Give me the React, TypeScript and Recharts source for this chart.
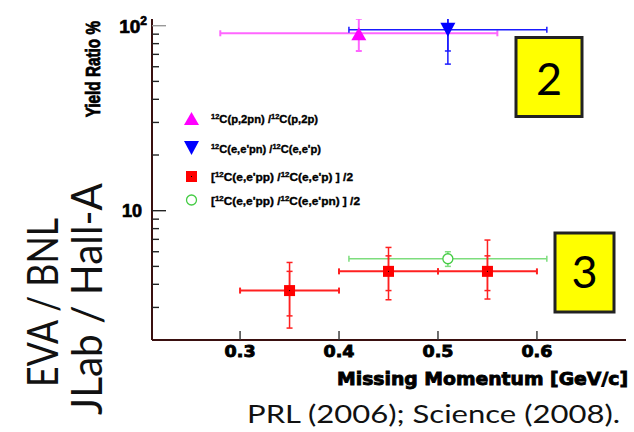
// Cociente de rendimientos frente al momento perdido, escala log en Y.
import { ErrorBar, Label, Scatter, ScatterChart, XAxis, YAxis } from "recharts";

const W = 634;
const H = 432;

// 12C(p,2pn)/12C(p,2p)  (EVA / BNL)
const PP_MOMENTUM = [0.42];
const PP_RATIO = [91];
const PP_MOMENTUM_ERR = [0.14];
const PP_RATIO_ERR = [18];

// 12C(e,e'pn)/12C(e,e'p)  (JLab / Hall-A)
const EPN_MOMENTUM = [0.51];
const EPN_RATIO = [95];
const EPN_MOMENTUM_ERR = [0.1];
const EPN_RATIO_ERR = [33];
const EPN_RATIO_STAT = [22];

// [12C(e,e'pp)/12C(e,e'p)]/2
const EPP_MOMENTUM = [0.35, 0.45, 0.55];
const EPP_RATIO = [3.7, 4.7, 4.7];
const EPP_MOMENTUM_ERR = [0.05, 0.05, 0.05];
const EPP_RATIO_ERR_LOW = [1.38, 1.4, 1.37];
const EPP_RATIO_ERR_HIGH = [1.55, 1.63, 2.24];
const EPP_RATIO_STAT = [1.0, 1.0, 1.0];

// [12C(e,e'pp)/12C(e,e'pn)]/2
const PPPN_MOMENTUM = [0.51];
const PPPN_RATIO = [5.5];
const PPPN_MOMENTUM_ERR = [0.1];
const PPPN_RATIO_ERR = [0.5];

const X_DOMAIN = [0.211, 0.69];
const Y_DOMAIN = [2, 108.7];
const X_TICKS = [0.3, 0.4, 0.5, 0.6];
const Y_TICKS = [3, 4, 5, 6, 7, 8, 9, 10, 20, 30, 40, 50, 60, 70, 80, 90, 100];

const LEGEND_LABELS = [
  "^12C(p,2pn) /^12C(p,2p)",
  "^12C(e,e'pn) /^12C(e,e'p)",
  "[^12C(e,e'pp) /^12C(e,e'p) ] /2",
  "[^12C(e,e'pp) /^12C(e,e'pn) ] /2",
];

const MAGENTA = "#ff00ff";
const BLUE = "#0000ff";
const RED = "#ff0000";
const GREEN = "#44cc44";
const FRAME = "#3a1010";
const AXIS_FONT = "'Liberation Sans', Arial, sans-serif";
const HEAVY_FONT = "'DejaVu Sans', 'Liberation Sans', sans-serif";
const SLIDE_FONT = "Lato, 'Open Sans', sans-serif";

// márgenes del área de trazado
const M = { top: 19, right: 8, bottom: 0, left: 0 };
const Y_AXIS_W = 152;
const X_AXIS_H = 92;

const ppData = PP_MOMENTUM.map((x, i) => ({ x, y: PP_RATIO[i], ex: PP_MOMENTUM_ERR[i], ey: PP_RATIO_ERR[i] }));
const epnData = EPN_MOMENTUM.map((x, i) => ({
  x,
  y: EPN_RATIO[i],
  ex: EPN_MOMENTUM_ERR[i],
  ey: EPN_RATIO_ERR[i],
  es: EPN_RATIO_STAT[i],
}));
const eppData = EPP_MOMENTUM.map((x, i) => ({
  x,
  y: EPP_RATIO[i],
  ex: EPP_MOMENTUM_ERR[i],
  ey: [EPP_RATIO_ERR_LOW[i], EPP_RATIO_ERR_HIGH[i]],
  es: EPP_RATIO_STAT[i],
}));
const pppnData = PPPN_MOMENTUM.map((x, i) => ({ x, y: PPPN_RATIO[i], ex: PPPN_MOMENTUM_ERR[i], ey: PPPN_RATIO_ERR[i] }));

// Marcadores estilo ROOT
const triUp = (cx: number, cy: number, color: string) => (
  <polygon points={`${cx},${cy - 6} ${cx - 7.5},${cy + 7} ${cx + 7.5},${cy + 7}`} fill={color} />
);
const triDown = (cx: number, cy: number, color: string) => (
  <polygon points={`${cx - 7.5},${cy - 7} ${cx + 7.5},${cy - 7} ${cx},${cy + 7}`} fill={color} />
);
const square = (cx: number, cy: number, color: string) => (
  <g>
    <rect x={cx - 5.5} y={cy - 5.5} width={11} height={11} fill={color} />
    <rect x={cx - 0.5} y={cy - 0.5} width={1} height={1} fill="#000" />
  </g>
);
const circle = (cx: number, cy: number, color: string) => (
  <circle cx={cx} cy={cy} r={5} fill="#fff" stroke={color} strokeWidth={1.3} />
);

const LEGEND_MARKERS = [
  (cx: number, cy: number) => triUp(cx, cy, MAGENTA),
  (cx: number, cy: number) => triDown(cx, cy, BLUE),
  (cx: number, cy: number) => square(cx, cy, RED),
  (cx: number, cy: number) => circle(cx, cy, GREEN),
];
const LEGEND_ROW_Y = [118, 148, 176.5, 200];
const LEGEND_WIDTHS = [107, 110, 142, 149];

// "^12C" -> superíndice 12 seguido de C
function richText(label: string) {
  const parts = label.split(/\^(\d+)/);
  const out: JSX.Element[] = [];
  parts.forEach((p, i) => {
    if (!p) return;
    if (i % 2 === 1) {
      out.push(
        <tspan key={i} dy={-4} fontSize={7}>
          {p}
        </tspan>
      );
    } else {
      out.push(
        <tspan key={i} dy={i > 0 ? 4 : 0}>
          {p}
        </tspan>
      );
    }
  });
  return out;
}

// ticks hacia dentro: largos en las décadas, cortos en el resto
function YTick(props: any) {
  const { payload } = props;
  const v = payload.value;
  const major = v === 10 || v === 100;
  const px = Number(props.x);
  const py = Number(props.y);
  return (
    <g>
      <path d={`M${px},${py}H${px + (major ? 14 : 7)}`} stroke={v === 100 ? "#999" : "#222"} strokeWidth={1.4} fill="none" />
      {v === 10 && (
        <text x={px - 10} y={py + 6.5} textAnchor="end" fontFamily={AXIS_FONT} fontWeight="bold" fontSize={18} stroke="#000" strokeWidth={0.7}>
          10
        </text>
      )}
      {v === 100 && (
        <text x={px - 5} y={py + 7} textAnchor="end" fontFamily={AXIS_FONT} fontWeight="bold" fontSize={19} stroke="#000" strokeWidth={0.7}>
          10
          <tspan dy={-8} fontSize={12}>
            2
          </tspan>
        </text>
      )}
    </g>
  );
}

function XTick(props: any) {
  const { payload } = props;
  const px = Number(props.x);
  const py = Number(props.y);
  return (
    <g>
      <path d={`M${px},${py}V${py - 9}`} stroke="#333" strokeWidth={1.4} fill="none" />
      <text
        x={px}
        y={py + 16.5}
        textAnchor="middle"
        fontFamily={HEAVY_FONT}
        fontWeight="bold"
        fontSize={15}
        textLength={31}
        lengthAdjust="spacingAndGlyphs"
        stroke="#000"
        strokeWidth={0.8}
      >
        {payload.value}
      </text>
    </g>
  );
}

const plotLeft = M.left + Y_AXIS_W;
const plotTop = M.top;
const plotW = W - M.right - plotLeft;
const plotH = H - M.bottom - X_AXIS_H - plotTop;

export default function App() {
  return (
    <div style={{ position: "absolute", left: 0, top: 0, width: W, height: H, background: "#fff" }}>
      {/* las barras de error se recortan al marco, como en ROOT */}
      <style>{`.recharts-errorBars, .recharts-errorBar { clip-path: url(#plot-clip); }`}</style>
      <ScatterChart width={W} height={H} margin={M}>
        <XAxis
          dataKey="x"
          type="number"
          domain={X_DOMAIN}
          allowDataOverflow
          ticks={X_TICKS}
          interval={0}
          height={X_AXIS_H}
          tick={XTick}
          tickLine={false}
          tickSize={0}
          tickMargin={0}
          stroke={FRAME}
          axisLine={{ stroke: FRAME, strokeWidth: 2 }}
        >
          <Label
            content={(p: any) => {
              const vb = p.viewBox;
              return (
                <text
                  x={vb.x + vb.width + 2}
                  y={vb.y + 45}
                  textAnchor="end"
                  fontFamily={HEAVY_FONT}
                  fontWeight="bold"
                  fontSize={18}
                  textLength={291}
                  lengthAdjust="spacingAndGlyphs"
                  stroke="#000"
                  strokeWidth={0.9}
                >
                  Missing Momentum [GeV/c]
                </text>
              );
            }}
          />
        </XAxis>
        <XAxis
          xAxisId="top"
          orientation="top"
          type="number"
          domain={X_DOMAIN}
          height={0}
          tick={false}
          tickLine={false}
          stroke={FRAME}
          axisLine={{ stroke: FRAME, strokeWidth: 2 }}
        />
        <YAxis
          dataKey="y"
          type="number"
          scale="log"
          domain={Y_DOMAIN}
          allowDataOverflow
          ticks={Y_TICKS}
          interval={0}
          width={Y_AXIS_W}
          tick={YTick}
          tickLine={false}
          tickSize={0}
          tickMargin={0}
          stroke={FRAME}
          axisLine={{ stroke: FRAME, strokeWidth: 2 }}
        >
          <Label
            content={(p: any) => {
              const vb = p.viewBox;
              const x = 100;
              const y = vb.y + 2;
              // título girado, con el trazo algo más ancho que alto
              return (
                <text
                  transform={`translate(${x}, ${y}) rotate(-90) scale(1, 1.3)`}
                  x={0}
                  y={0}
                  textAnchor="end"
                  fontFamily={AXIS_FONT}
                  fontWeight="bold"
                  fontSize={15.3}
                  stroke="#000"
                  strokeWidth={0.6}
                >
                  Yield Ratio %
                </text>
              );
            }}
          />
        </YAxis>
        <YAxis
          yAxisId="right"
          orientation="right"
          type="number"
          domain={[0, 1]}
          width={0}
          tick={false}
          tickLine={false}
          stroke={FRAME}
          axisLine={{ stroke: FRAME, strokeWidth: 2 }}
        />

        <Scatter data={ppData} dataKey="y" isAnimationActive={false} shape={(p: any) => triUp(p.cx, p.cy, MAGENTA)}>
          <ErrorBar dataKey="ex" direction="x" width={3} stroke="#ff66ff" strokeWidth={2} />
          <ErrorBar dataKey="ey" direction="y" width={3} stroke="#ff66ff" strokeWidth={2} />
        </Scatter>
        <Scatter data={epnData} dataKey="y" isAnimationActive={false} shape={(p: any) => triDown(p.cx, p.cy, BLUE)}>
          <ErrorBar dataKey="ex" direction="x" width={3} stroke="#1a1aff" strokeWidth={1.5} />
          <ErrorBar dataKey="ey" direction="y" width={3} stroke="#1a1aff" strokeWidth={1.5} />
          <ErrorBar dataKey="es" direction="y" width={3} stroke="#1a1aff" strokeWidth={1.5} />
        </Scatter>
        <Scatter data={pppnData} dataKey="y" isAnimationActive={false} shape={(p: any) => circle(p.cx, p.cy, GREEN)}>
          <ErrorBar dataKey="ex" direction="x" width={3} stroke="#7ddd7d" strokeWidth={1.5} />
          <ErrorBar dataKey="ey" direction="y" width={3} stroke="#7ddd7d" strokeWidth={1.5} />
        </Scatter>
        <Scatter data={eppData} dataKey="y" isAnimationActive={false} shape={(p: any) => square(p.cx, p.cy, RED)}>
          <ErrorBar dataKey="ex" direction="x" width={3} stroke="#ff2020" strokeWidth={2} />
          <ErrorBar dataKey="ey" direction="y" width={3} stroke="#ff2020" strokeWidth={1.5} />
          <ErrorBar dataKey="es" direction="y" width={3} stroke="#ff2020" strokeWidth={1.5} />
        </Scatter>
      </ScatterChart>

      <svg width={W} height={H} style={{ position: "absolute", left: 0, top: 0, pointerEvents: "none" }}>
        <defs>
          <clipPath id="plot-clip" clipPathUnits="userSpaceOnUse">
            <rect x={plotLeft} y={plotTop} width={plotW} height={plotH} />
          </clipPath>
        </defs>

        {/* leyenda */}
        {LEGEND_LABELS.map((label, i) => (
          <g key={label}>
            {LEGEND_MARKERS[i](191.5, LEGEND_ROW_Y[i])}
            <text
              x={211}
              y={LEGEND_ROW_Y[i] + 4.5}
              fontFamily={AXIS_FONT}
              fontWeight="bold"
              fontSize={10.5}
              textLength={LEGEND_WIDTHS[i]}
              lengthAdjust="spacingAndGlyphs"
              stroke="#000"
              strokeWidth={0.35}
            >
              {richText(label)}
            </text>
          </g>
        ))}

        {/* recuadros numerados */}
        <rect x={516} y={37.5} width={66} height={79} fill="#ffff00" stroke="#222" strokeWidth={3} />
        <text x={549} y={95} textAnchor="middle" fontFamily={SLIDE_FONT} fontSize={45} fill="#000">
          2
        </text>
        <rect x={555} y={233} width={59} height={79} fill="#ffff00" stroke="#222" strokeWidth={3} />
        <text x={584.5} y={288} textAnchor="middle" fontFamily={SLIDE_FONT} fontSize={45} fill="#000">
          3
        </text>

        {/* laboratorios y referencias */}
        <text
          x={58}
          y={302.5}
          transform="rotate(-90, 58, 302.5)"
          textAnchor="middle"
          fontFamily={SLIDE_FONT}
          fontSize={42}
          textLength={169}
          lengthAdjust="spacingAndGlyphs"
          fill="#111"
        >
          EVA / BNL
        </text>
        <text
          x={102}
          y={299}
          transform="rotate(-90, 102, 299)"
          textAnchor="middle"
          fontFamily={SLIDE_FONT}
          fontSize={42}
          textLength={232}
          lengthAdjust="spacingAndGlyphs"
          fill="#111"
        >
          JLab / Hall-A
        </text>
        <text
          x={247}
          y={423}
          fontFamily={SLIDE_FONT}
          fontSize={25}
          textLength={373}
          lengthAdjust="spacingAndGlyphs"
          fill="#111"
        >
          PRL (2006); Science (2008).
        </text>
      </svg>
    </div>
  );
}
